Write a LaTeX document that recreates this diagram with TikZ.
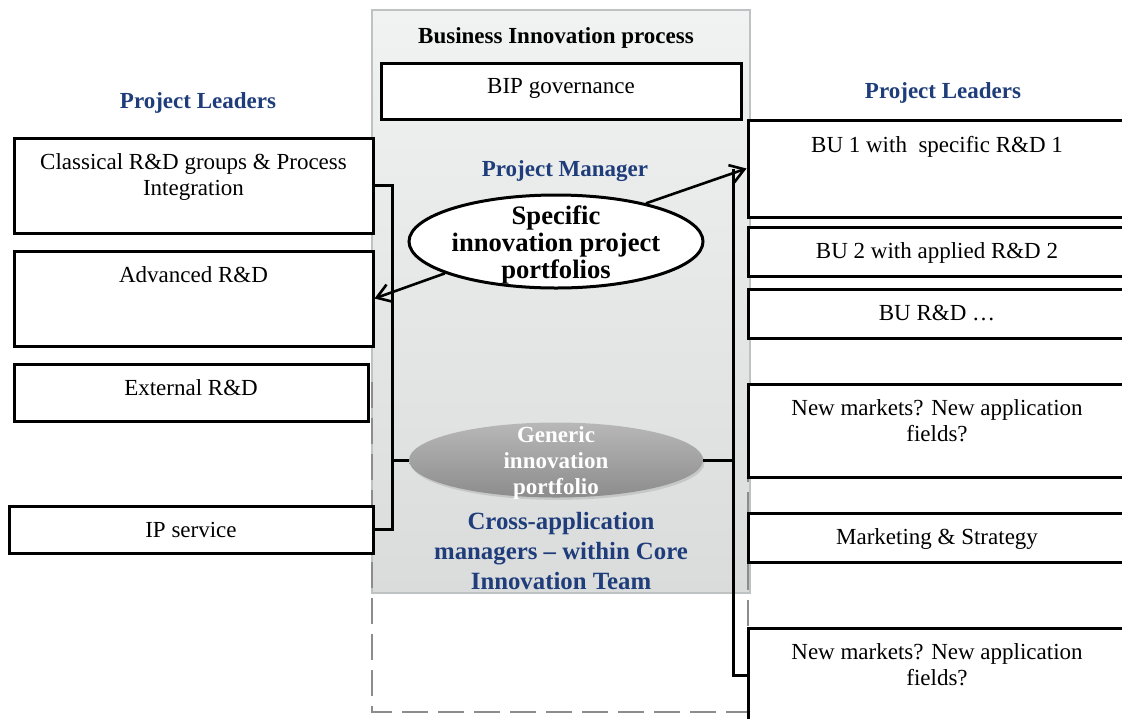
\documentclass[tikz,border=0pt]{standalone}
\usepackage{fontspec}
\setmainfont{Liberation Serif}
\usepackage{tikz}
\usetikzlibrary{positioning,arrows.meta,shapes.geometric,fit,calc,shadows}
\definecolor{leadblue}{RGB}{31,61,122}
\definecolor{panelline}{RGB}{190,194,194}
\definecolor{paneltop}{RGB}{241,243,243}
\definecolor{panelbot}{RGB}{218,220,220}
\definecolor{dashgray}{RGB}{140,140,140}
\tikzset{
  box/.style={draw, line width=1.5pt, fill=white, inner sep=0pt},
  intext/.style={anchor=north, yshift=-8.5pt, inner sep=0pt, align=center,
                 font=\fontsize{11.5}{13}\selectfont},
  head/.style={inner sep=0pt, align=center, font=\bfseries\fontsize{11.5}{13}\selectfont},
  bluehead/.style={head, text=leadblue},
  panel/.style={draw=panelline, line width=0.6pt, top color=paneltop,
                bottom color=panelbot, inner sep=0pt},
  specell/.style={ellipse, draw, line width=1.5pt, fill=white,
                  minimum width=147pt, minimum height=46.5pt, inner sep=0pt},
  genell/.style={ellipse, top color=black!28, bottom color=black!45, draw=none,
                 minimum width=147pt, minimum height=37.5pt, inner sep=0pt,
                 drop shadow={opacity=0.25, shadow xshift=0.8pt, shadow yshift=-1.2pt}},
  link/.style={line width=1.5pt},
  arrow/.style={-{Straight Barb[length=2.4mm, width=3.2mm]}, line width=1.3pt},
}

\begin{document}
\begin{tikzpicture}[x=0.5pt, y=-0.5pt]
  \useasboundingbox (0,0) rectangle (1122,718);
  \clip (0,0) rectangle (1122,718);

  % central process panel
  \node[panel, fit={(372,10) (750,593)}] (bip) {};
  \draw[dashgray, line width=1.1pt, dash pattern=on 13pt off 5pt]
    (372,382) -- (372,712) -- (748,712) -- (748,382);
  \node[head] (biptitle) at (556,38) {Business Innovation process};
  \node[box, fit={(381,63) (741,119)},
        label={[intext]north:BIP governance}] (gov) {};
  \node[bluehead] (pm) at (565,171) {Project Manager};

  % left side
  \node[bluehead] (pll) at (198,103) {Project Leaders};
  \node[box, fit={(14,138) (373,233)},
        label={[intext]north:Classical R\&D groups \& Process\\Integration}] (cls) {};
  \node[box, fit={(14,251) (373,346)},
        label={[intext]north:Advanced R\&D}] (adv) {};
  \node[box, fit={(14,364) (368,421)},
        label={[intext]north:External R\&D}] (ext) {};
  \node[box, fit={(9,506) (373,553)},
        label={[intext]north:IP service}] (ips) {};

  % right side
  \node[bluehead] (plr) at (943,93) {Project Leaders};
  \node[box, fit={(748,120) (1126,217)},
        label={[intext]north:BU 1 with\ \ specific R\&D 1}] (bu1) {};
  \node[box, fit={(748,227) (1126,276)},
        label={[intext]north:BU 2 with applied R\&D 2}] (bu2) {};
  \node[box, fit={(748,289) (1126,338)},
        label={[intext]north:BU R\&D \ldots}] (bun) {};
  \node[box, fit={(748,384) (1126,477)},
        label={[intext]north:New markets? New application\\fields?}] (nm1) {};
  \node[box, fit={(748,513) (1126,562)},
        label={[intext]north:Marketing \& Strategy}] (mks) {};
  \node[box, fit={(748,628) (1126,722)},
        label={[intext]north:New markets? New application\\fields?}] (nm2) {};

  % portfolios
  \node[specell, label={[head, font=\bfseries\fontsize{13.3}{13.5}\selectfont, yshift=-1.75pt]center:Specific\\innovation project\\portfolios}] (spec) at (556,241.5) {};
  \node[genell, label={[head, text=white, yshift=-1.5pt]center:Generic\\innovation\\portfolio}] (gen) at (556,460) {};
  \node[bluehead, font=\bfseries\fontsize{12.4}{14.8}\selectfont] (cam) at (561,551)
    {Cross-application\\managers -- within Core\\Innovation Team};

  % bracket lines
  \coordinate (lbar) at (392,0);
  \coordinate (rbar) at (733,0);
  \draw[link] (cls.east) -| (lbar |- ips.east) -- (ips.east);
  \draw[link] (gen.west) -- (gen.west -| lbar);
  \draw[link] (gen.east) -- (gen.east -| rbar);
  \draw[link] (rbar |- bu1.west) |- (nm2.west);

  \draw[arrow] (spec.23) -- (bu1.west);
  \draw[arrow] (spec.196) -- (adv.east);
\end{tikzpicture}
\end{document}
